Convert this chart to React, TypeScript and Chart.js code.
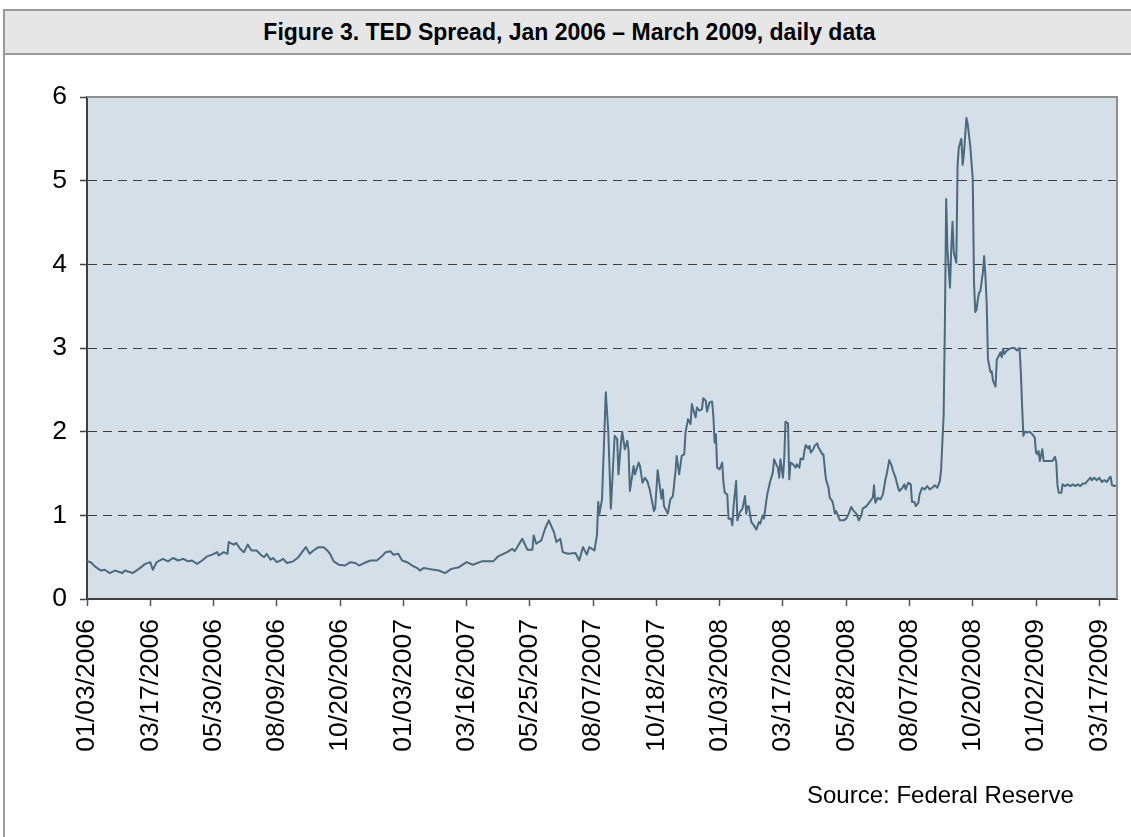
import React, { useEffect, useRef } from "react";
import { Chart, registerables } from "chart.js";

Chart.register(...registerables);

const titleText = "Figure 3. TED Spread, Jan 2006 – March 2009, daily data";
const sourceText = "Source: Federal Reserve";

const tickLabels = [
  "01/03/2006", "03/17/2006", "05/30/2006", "08/09/2006", "10/20/2006",
  "01/03/2007", "03/16/2007", "05/25/2007", "08/07/2007", "10/18/2007",
  "01/03/2008", "03/17/2008", "05/28/2008", "08/07/2008", "10/20/2008",
  "01/02/2009", "03/17/2009",
];
const tickDays = [0, 50, 100, 150, 200, 250, 300, 350, 400, 450, 500, 550, 600, 650, 700, 750, 800];
const lastDay = 814;
const yTicks = [0, 1, 2, 3, 4, 5, 6];

// trading-day index since 01/03/2006
const dayIndex = [
  0, 3, 7, 11, 14, 18, 22, 28, 30, 36, 41, 46, 50, 52, 55, 60, 64, 68, 72, 76, 80, 83, 87, 91, 95, 99,
  103, 104, 108, 111, 112, 116, 118, 121, 124, 127, 130, 134, 138, 140, 142, 145, 147, 150, 153, 155,
  158, 163, 167, 170, 173, 176, 179, 183, 187, 190, 192, 195, 199, 204, 208, 212, 215, 219, 224, 229,
  233, 236, 240, 242, 246, 249, 253, 257, 261, 263, 266, 270, 274, 278, 283, 288, 294, 300, 305, 312,
  321, 325, 332, 336, 338, 344, 348, 352, 353, 355, 359, 362, 365, 369, 371, 374, 376, 380, 386, 389,
  392, 395, 397, 401, 403, 404, 405, 407, 410, 412, 414, 417, 419, 420, 422, 423, 425, 427, 428, 429,
  432, 433, 436, 437, 439, 441, 443, 445, 448, 449, 451, 453, 454, 455, 456, 459, 461, 463, 465, 466,
  468, 470, 472, 473, 475, 477, 478, 479, 481, 482, 484, 486, 487, 489, 490, 492, 494, 495, 496, 497,
  498, 500, 502, 503, 504, 506, 507, 509, 510, 511, 513, 514, 516, 518, 520, 521, 522, 523, 525, 527,
  529, 531, 532, 534, 535, 537, 538, 540, 542, 543, 545, 546, 547, 548, 550, 551, 552, 554, 555, 556,
  558, 560, 561, 563, 564, 566, 567, 568, 570, 571, 572, 574, 575, 577, 578, 579, 581, 582, 583, 584,
  586, 587, 589, 590, 591, 592, 595, 598, 600, 602, 604, 606, 608, 610, 612, 613, 616, 619, 621, 622,
  623, 625, 627, 629, 631, 632, 634, 636, 637, 639, 641, 642, 644, 646, 647, 649, 651, 652, 654, 655,
  657, 658, 660, 662, 664, 666, 668, 670, 672, 674, 675, 677, 678, 679, 680, 682, 683, 684, 685, 687,
  688, 689, 691, 692, 693, 695, 696, 698, 700, 701, 702, 703, 704, 705, 706, 708, 709, 710, 711, 712,
  714, 715, 716, 718, 719, 720, 722, 723, 724, 725, 727, 729, 731, 733, 735, 737, 738, 739, 740, 741,
  743, 745, 747, 749, 750, 751, 752, 753, 755, 756, 760, 763, 765, 766, 767, 768, 770, 771, 773, 775,
  777, 779, 781, 783, 785, 787, 789, 790, 793, 794, 796, 798, 800, 802, 804, 806, 808, 809, 810, 812,
  814,
];

const tedSpread = [
  0.45, 0.44, 0.38, 0.34, 0.35, 0.31, 0.34, 0.31, 0.34, 0.31, 0.36, 0.42, 0.44, 0.35, 0.44, 0.48, 0.45, 0.49, 0.46, 0.48, 0.45, 0.46, 0.42, 0.46, 0.51, 0.53,
  0.56, 0.52, 0.56, 0.54, 0.68, 0.65, 0.67, 0.60, 0.56, 0.65, 0.58, 0.58, 0.52, 0.50, 0.54, 0.47, 0.49, 0.44, 0.46, 0.48,
  0.43, 0.45, 0.50, 0.56, 0.62, 0.54, 0.58, 0.62, 0.62, 0.58, 0.54, 0.45, 0.41, 0.40, 0.44, 0.43, 0.40, 0.43, 0.46, 0.46,
  0.51, 0.56, 0.57, 0.53, 0.54, 0.46, 0.44, 0.40, 0.37, 0.34, 0.37, 0.36, 0.35, 0.34, 0.31, 0.36, 0.38, 0.44, 0.41, 0.45,
  0.45, 0.51, 0.56, 0.60, 0.57, 0.72, 0.59, 0.59, 0.76, 0.66, 0.70, 0.84, 0.94, 0.80, 0.68, 0.72, 0.56, 0.54, 0.55, 0.46,
  0.62, 0.53, 0.62, 0.58, 0.76, 1.16, 1.02, 1.19, 2.47, 1.99, 1.08, 1.95, 1.91, 1.49, 1.87, 2.00, 1.79, 1.89, 1.77, 1.29,
  1.59, 1.49, 1.63, 1.59, 1.39, 1.45, 1.40, 1.29, 1.05, 1.08, 1.54, 1.31, 1.20, 1.31, 1.11, 1.02, 1.19, 1.23, 1.51, 1.71,
  1.49, 1.71, 1.73, 1.99, 2.15, 2.09, 2.33, 2.27, 2.17, 2.29, 2.25, 2.27, 2.40, 2.37, 2.24, 2.35, 2.36, 2.19, 1.87, 1.97,
  1.57, 1.55, 1.63, 1.39, 1.27, 1.25, 0.96, 0.96, 0.88, 1.11, 1.41, 0.94, 1.04, 1.08, 1.23, 1.02, 1.11, 1.11, 0.92, 0.88,
  0.83, 0.92, 0.90, 1.00, 0.96, 1.19, 1.28, 1.41, 1.51, 1.67, 1.60, 1.57, 1.45, 1.67, 1.45, 1.67, 2.12, 2.10, 1.43, 1.63,
  1.61, 1.57, 1.61, 1.57, 1.68, 1.67, 1.77, 1.84, 1.80, 1.83, 1.75, 1.79, 1.83, 1.86, 1.81, 1.79, 1.73, 1.73, 1.57, 1.43,
  1.33, 1.21, 1.17, 1.11, 1.02, 1.05, 0.94, 0.94, 0.96, 1.02, 1.10, 1.05, 1.02, 0.94, 1.00, 1.08, 1.11, 1.17, 1.21, 1.36,
  1.15, 1.21, 1.19, 1.25, 1.43, 1.49, 1.66, 1.59, 1.53, 1.45, 1.33, 1.29, 1.32, 1.37, 1.31, 1.39, 1.37, 1.16, 1.16, 1.11,
  1.15, 1.25, 1.33, 1.31, 1.35, 1.31, 1.33, 1.36, 1.33, 1.41, 1.55, 2.20, 3.31, 4.78, 4.18, 3.72, 4.18, 4.51, 4.14, 4.02,
  5.18, 5.40, 5.50, 5.19, 5.32, 5.75, 5.68, 5.42, 5.02, 3.78, 3.43, 3.46, 3.58, 3.66, 3.68, 3.90, 4.10, 3.86, 3.54, 2.87,
  2.71, 2.72, 2.61, 2.54, 2.86, 2.89, 2.95, 2.89, 2.99, 2.93, 2.97, 2.99, 3.00, 3.00, 2.97, 3.00, 2.71, 2.31, 1.95, 2.00,
  1.99, 2.00, 1.97, 1.93, 1.75, 1.73, 1.77, 1.65, 1.79, 1.65, 1.65, 1.65, 1.70, 1.63, 1.35, 1.27, 1.27, 1.37, 1.35, 1.37,
  1.35, 1.37, 1.35, 1.37, 1.35, 1.38, 1.38, 1.40, 1.45, 1.42, 1.45, 1.42, 1.45, 1.40, 1.42, 1.40, 1.45, 1.46, 1.36, 1.35,
  1.36,
];

const FONT = "'Liberation Sans', Arial, Helvetica, sans-serif";

const plotBgPlugin = {
  id: "plotBg",
  beforeDraw(chart: any) {
    const { ctx, chartArea } = chart;
    ctx.save();
    ctx.fillStyle = "#d5dfe7";
    ctx.fillRect(chartArea.left, chartArea.top, chartArea.right - chartArea.left, chartArea.bottom - chartArea.top);
    ctx.restore();
  },
  afterDatasetsDraw(chart: any) {
    const { ctx, chartArea } = chart;
    ctx.save();
    ctx.strokeStyle = "#8f8f8f";
    ctx.lineWidth = 2;
    ctx.beginPath();
    ctx.moveTo(chartArea.left, chartArea.top);
    ctx.lineTo(chartArea.right, chartArea.top);
    ctx.lineTo(chartArea.right, chartArea.bottom);
    ctx.stroke();
    ctx.restore();
  },
};

export default function App() {
  const canvasRef = useRef<HTMLCanvasElement | null>(null);

  useEffect(() => {
    if (!canvasRef.current) return;
    const points = dayIndex.map((d, i) => ({ x: d, y: tedSpread[i] }));
    const chart = new Chart(canvasRef.current, {
      type: "line",
      data: {
        datasets: [
          {
            data: points,
            borderColor: "#4a6a80",
            borderWidth: 2,
            pointRadius: 0,
            tension: 0,
            borderJoinStyle: "round",
            fill: false,
          },
        ],
      },
      options: {
        animation: false,
        responsive: false,
        devicePixelRatio: 1,
        parsing: false,
        normalized: true,
        layout: { padding: { top: 97, right: 14, left: 0, bottom: 0 } },
        plugins: { legend: { display: false }, tooltip: { enabled: false }, title: { display: false } },
        scales: {
          x: {
            type: "linear",
            min: 0,
            max: lastDay,
            afterBuildTicks: (s: any) => {
              s.ticks = tickDays.map((v) => ({ value: v }));
            },
            afterFit: (s: any) => {
              s.height = 837 - 599;
              s.paddingLeft = 0;
              s.paddingRight = 0;
            },
            ticks: {
              autoSkip: false,
              maxRotation: 90,
              minRotation: 90,
              padding: 13,
              color: "#000",
              font: { family: FONT, size: 26.5 },
              callback: (_v: any, i: number) => tickLabels[i],
            },
            grid: {
              drawOnChartArea: false,
              drawTicks: true,
              tickLength: 7,
              tickColor: "#555",
              tickWidth: 1.5,
              color: "#555",
            },
            border: { color: "#404040", width: 2 },
          },
          y: {
            type: "linear",
            min: 0,
            max: 6,
            afterBuildTicks: (s: any) => {
              s.ticks = yTicks.map((v) => ({ value: v }));
            },
            afterFit: (s: any) => {
              s.width = 87;
              s.paddingTop = 0;
              s.paddingBottom = 0;
            },
            ticks: {
              padding: 13,
              color: "#000",
              font: { family: FONT, size: 26.5 },
              callback: (v: any) => String(v),
            },
            grid: {
              drawOnChartArea: true,
              drawTicks: true,
              tickLength: 7,
              tickColor: "#404040",
              tickWidth: 1.5,
              lineWidth: 1,
              color: (ctx: any) =>
                ctx.tick && (ctx.tick.value === 0 || ctx.tick.value === 6) ? "rgba(0,0,0,0)" : "#3c3c3c",
            },
            border: { color: "#404040", width: 2, dash: [9, 6] },
          },
        },
      },
      plugins: [plotBgPlugin],
    } as any);
    return () => chart.destroy();
  }, []);

  return (
    <div style={{ position: "absolute", left: 0, top: 0, width: 1131, height: 837, overflow: "hidden", background: "#fff" }}>
      <div
        style={{
          position: "absolute",
          left: 3,
          top: 9,
          width: 1140,
          height: 900,
          border: "2px solid #9a9a9a",
          boxSizing: "border-box",
          background: "#fff",
        }}
      >
        <div
          style={{
            width: 1129,
            height: 41,
            background: "#e6e6e6",
            borderBottom: "2px solid #9a9a9a",
            display: "flex",
            alignItems: "center",
            justifyContent: "center",
            fontFamily: FONT,
            fontWeight: "bold",
            fontSize: 23,
            color: "#000",
            paddingTop: 1,
            paddingRight: 7,
            boxSizing: "content-box",
          }}
        >
          {titleText}
        </div>
      </div>
      <canvas
        ref={canvasRef}
        width={1131}
        height={837}
        style={{ position: "absolute", left: 0, top: 0, width: 1131, height: 837 }}
      />
      <div
        style={{
          position: "absolute",
          left: 807,
          top: 783,
          fontFamily: FONT,
          fontSize: 24,
          lineHeight: "24px",
          color: "#000",
          whiteSpace: "nowrap",
        }}
      >
        {sourceText}
      </div>
    </div>
  );
}
